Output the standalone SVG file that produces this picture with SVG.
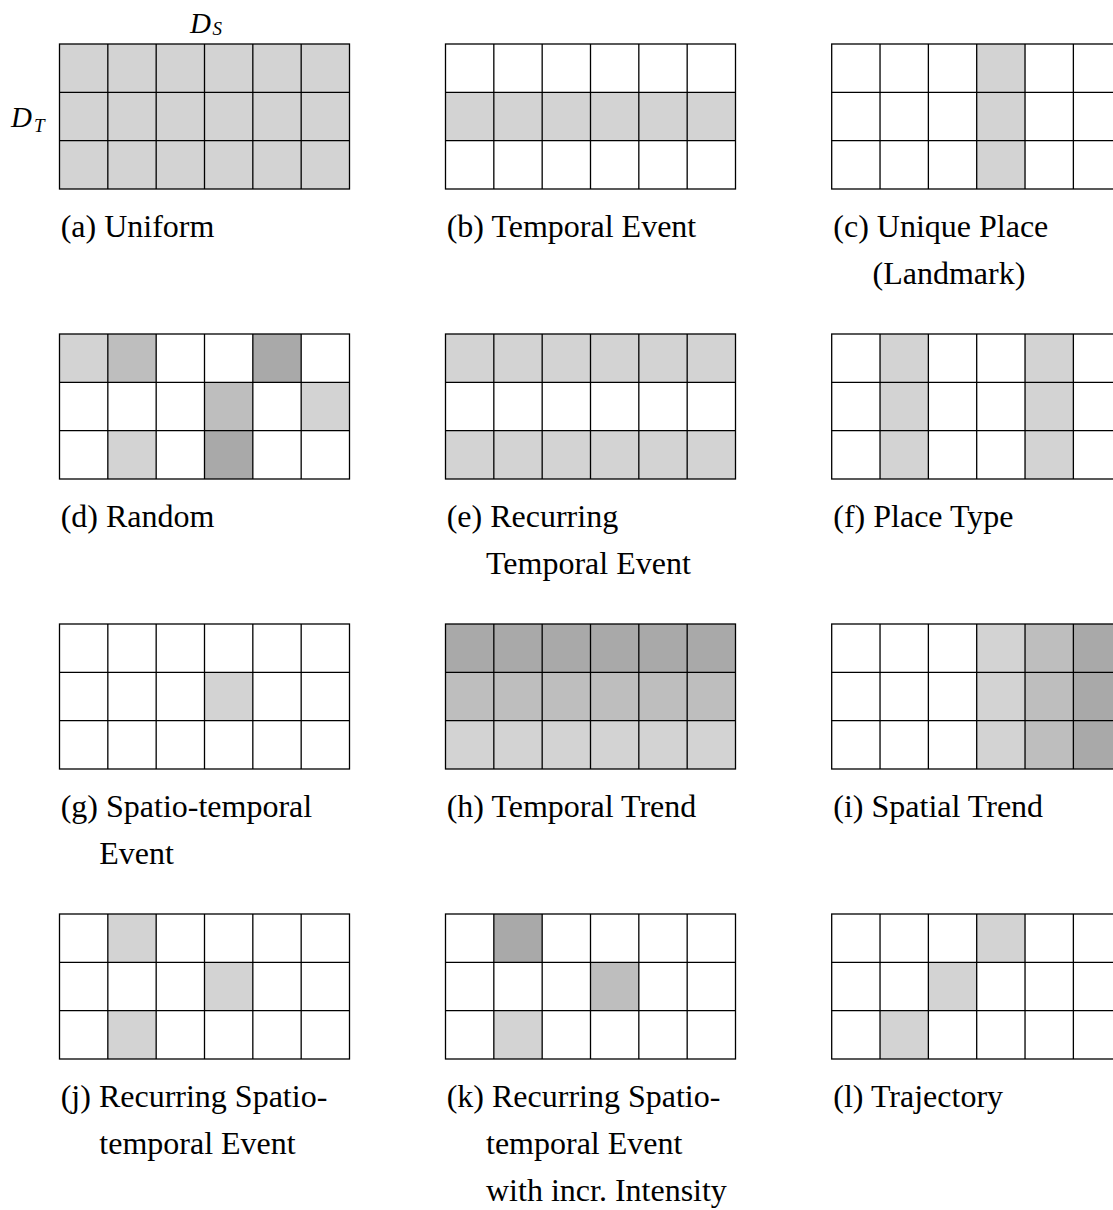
<svg xmlns="http://www.w3.org/2000/svg" xmlns:xlink="http://www.w3.org/1999/xlink" width="1113" height="1210" viewBox="0 0 1113 1210">
<style>
.lbl{font-family:"Liberation Serif","Times New Roman",serif;font-size:32px;fill:#000}
.math{font-family:"Liberation Serif","Times New Roman",serif;font-style:italic;fill:#000}
.L{fill:#d3d3d3}
.M{fill:#bebebe}
.D{fill:#a9a9a9}
.gl{fill:none;stroke:#000;stroke-width:1.3}
</style>
<defs>
<g id="grid">
<rect class="gl" x="0" y="0" width="290" height="145"/>
<path class="gl" d="M48.33 0V145M96.67 0V145M145 0V145M193.33 0V145M241.67 0V145M0 48.33H290M0 96.67H290"/>
</g>
</defs>
<rect width="1113" height="1210" fill="#fff"/>
<g id="axis-labels">
<text class="math" x="190" y="32.7" font-size="29">D</text>
<text class="math" x="212.5" y="35" font-size="19">S</text>
<text class="math" x="11" y="126.7" font-size="29">D</text>
<text class="math" x="34" y="131.7" font-size="19">T</text>
</g>
<g id="connectors"/>
<g id="node-a">
<g transform="translate(59.5,44)">
<rect class="L" x="0" y="0" width="290" height="145"/>
<use xlink:href="#grid" href="#grid"/>
</g>
<text class="lbl" x="60.7" y="236.5">(a) Uniform</text>
</g>
<g id="node-b">
<g transform="translate(445.5,44)">
<rect class="L" x="0" y="48.33" width="290" height="48.33"/>
<use xlink:href="#grid" href="#grid"/>
</g>
<text class="lbl" x="446.7" y="236.5">(b) Temporal Event</text>
</g>
<g id="node-c">
<g transform="translate(831.7,44)">
<rect class="L" x="145" y="0" width="48.33" height="145"/>
<use xlink:href="#grid" href="#grid"/>
</g>
<text class="lbl" x="833.3" y="236.5">(c) Unique Place</text>
<text class="lbl" x="872.5" y="283.8">(Landmark)</text>
</g>
<g id="node-d">
<g transform="translate(59.5,334)">
<rect class="L" x="0" y="0" width="48.33" height="48.33"/>
<rect class="M" x="48.33" y="0" width="48.33" height="48.33"/>
<rect class="D" x="193.33" y="0" width="48.33" height="48.33"/>
<rect class="M" x="145" y="48.33" width="48.33" height="48.33"/>
<rect class="L" x="241.67" y="48.33" width="48.33" height="48.33"/>
<rect class="L" x="48.33" y="96.67" width="48.33" height="48.33"/>
<rect class="D" x="145" y="96.67" width="48.33" height="48.33"/>
<use xlink:href="#grid" href="#grid"/>
</g>
<text class="lbl" x="60.7" y="526.5">(d) Random</text>
</g>
<g id="node-e">
<g transform="translate(445.5,334)">
<rect class="L" x="0" y="0" width="290" height="48.33"/>
<rect class="L" x="0" y="96.67" width="290" height="48.33"/>
<use xlink:href="#grid" href="#grid"/>
</g>
<text class="lbl" x="446.7" y="526.5">(e) Recurring</text>
<text class="lbl" x="486" y="573.8">Temporal Event</text>
</g>
<g id="node-f">
<g transform="translate(831.7,334)">
<rect class="L" x="48.33" y="0" width="48.33" height="145"/>
<rect class="L" x="193.33" y="0" width="48.33" height="145"/>
<use xlink:href="#grid" href="#grid"/>
</g>
<text class="lbl" x="833.3" y="526.5">(f) Place Type</text>
</g>
<g id="node-g">
<g transform="translate(59.5,624)">
<rect class="L" x="145" y="48.33" width="48.33" height="48.33"/>
<use xlink:href="#grid" href="#grid"/>
</g>
<text class="lbl" x="60.7" y="816.5">(g) Spatio-temporal</text>
<text class="lbl" x="99.3" y="863.8">Event</text>
</g>
<g id="node-h">
<g transform="translate(445.5,624)">
<rect class="D" x="0" y="0" width="290" height="48.33"/>
<rect class="M" x="0" y="48.33" width="290" height="48.33"/>
<rect class="L" x="0" y="96.67" width="290" height="48.33"/>
<use xlink:href="#grid" href="#grid"/>
</g>
<text class="lbl" x="446.7" y="816.5">(h) Temporal Trend</text>
</g>
<g id="node-i">
<g transform="translate(831.7,624)">
<rect class="L" x="145" y="0" width="48.33" height="145"/>
<rect class="M" x="193.33" y="0" width="48.33" height="145"/>
<rect class="D" x="241.67" y="0" width="48.33" height="145"/>
<use xlink:href="#grid" href="#grid"/>
</g>
<text class="lbl" x="833.3" y="816.5">(i) Spatial Trend</text>
</g>
<g id="node-j">
<g transform="translate(59.5,914)">
<rect class="L" x="48.33" y="0" width="48.33" height="48.33"/>
<rect class="L" x="145" y="48.33" width="48.33" height="48.33"/>
<rect class="L" x="48.33" y="96.67" width="48.33" height="48.33"/>
<use xlink:href="#grid" href="#grid"/>
</g>
<text class="lbl" x="60.7" y="1106.5">(j) Recurring Spatio-</text>
<text class="lbl" x="99.3" y="1153.8">temporal Event</text>
</g>
<g id="node-k">
<g transform="translate(445.5,914)">
<rect class="D" x="48.33" y="0" width="48.33" height="48.33"/>
<rect class="M" x="145" y="48.33" width="48.33" height="48.33"/>
<rect class="L" x="48.33" y="96.67" width="48.33" height="48.33"/>
<use xlink:href="#grid" href="#grid"/>
</g>
<text class="lbl" x="446.7" y="1106.5">(k) Recurring Spatio-</text>
<text class="lbl" x="486" y="1153.8">temporal Event</text>
<text class="lbl" x="486" y="1201.1">with incr. Intensity</text>
</g>
<g id="node-l">
<g transform="translate(831.7,914)">
<rect class="L" x="145" y="0" width="48.33" height="48.33"/>
<rect class="L" x="96.67" y="48.33" width="48.33" height="48.33"/>
<rect class="L" x="48.33" y="96.67" width="48.33" height="48.33"/>
<use xlink:href="#grid" href="#grid"/>
</g>
<text class="lbl" x="833.3" y="1106.5">(l) Trajectory</text>
</g>
</svg>
